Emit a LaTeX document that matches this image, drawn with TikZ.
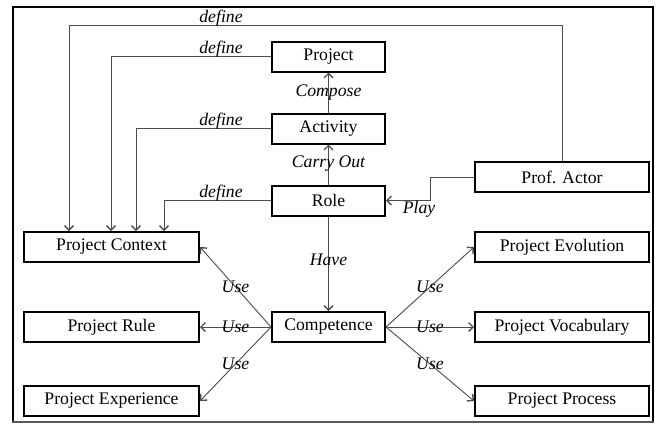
\documentclass[tikz,border=0pt]{standalone}
\usepackage{fontspec}
\setmainfont{Liberation Serif}
\usetikzlibrary{arrows.meta}

\tikzset{
  box/.style={draw=black, line width=2pt, minimum height=30pt, inner sep=0pt,
    font=\fontsize{17.7}{20}\selectfont},
  midbox/.style={box, minimum width=113pt},
  sidebox/.style={box, minimum width=175pt},
  conn/.style={draw=black!70, line width=0.9pt},
  arr/.style={conn, -{Straight Barb[length=4.5pt,width=9pt,line width=1.4pt]}},
  lbl/.style={font=\fontsize{17.7}{20}\selectfont\itshape, inner sep=0pt},
  frameline/.style={line width=2.2pt, draw=black}
}

\begin{document}
\begin{tikzpicture}[x=1pt,y=-1pt]
\useasboundingbox (0,0) rectangle (662,426);
\fill[white] (0,0) rectangle (662,426);

% outer frame
\draw[frameline] (13,422) -- (13,7) -- (653,7) -- (653,422);
\draw[draw=black!65, line width=1.5pt] (12,422) -- (654,422);

% central column
\node[midbox] (project) at (328.5,56.5) {Project};
\node[midbox] (activity) at (328.5,128.5) {Activity};
\node[midbox] (role) at (328.5,200.5) {Role};
\node[midbox] (comp) at (328.5,327) {Competence};

% left column
\node[sidebox] (ctx) at (111.5,247) {Project Context};
\node[sidebox] (rule) at (111.5,327) {Project Rule};
\node[sidebox] (exp) at (111.5,401) {Project Experience};

% right column
\node[sidebox, minimum width=174pt] (actor) at (562,177) {Prof. Actor};
\node[sidebox, minimum width=174pt] (evol) at (562,247) {Project Evolution};
\node[sidebox, minimum width=174pt] (vocab) at (562,327) {Project Vocabulary};
\node[sidebox, minimum width=174pt] (proc) at (562,401) {Project Process};

% bend points of the "define" routes and the "Play" route
\coordinate (topbend) at (69,25.5);
\coordinate (xproj) at (111,0);
\coordinate (xact) at (136,0);
\coordinate (xrole) at (164,0);
\coordinate (xplay) at (430,0);

% define connectors into Project Context
\draw[arr] (actor.north) |- (topbend) -- (topbend |- ctx.north);
\draw[arr] (project.west) -| (xproj |- ctx.north);
\draw[arr] (activity.west) -| (xact |- ctx.north);
\draw[arr] (role.west) -| (xrole |- ctx.north);
\node[lbl] (d1) at (221,18) {define};
\node[lbl] (d2) at (221,49) {define};
\node[lbl] (d3) at (221,121) {define};
\node[lbl] (d4) at (221,193) {define};

% vertical chain
\draw[arr] (activity.north) -- (project.south);
\draw[arr] (role.north) -- (activity.south);
\draw[arr] (role.south) -- (comp.north);
\node[lbl] (l1) at (328.5,93) {Compose};
\node[lbl] (l2) at (328.5,164) {Carry Out};
\node[lbl] (l3) at (328.5,260) {Have};

% Play
\draw[arr] (actor.west) -| (xplay |- role.east) -- (role.east);
\node[lbl] (l4) at (419,209) {Play};

% Use connectors
\draw[arr] (comp.west) -- (ctx.east) node[lbl, midway] {Use};
\draw[arr] (comp.west) -- (rule.east) node[lbl, midway] {Use};
\draw[arr] (comp.west) -- (exp.east) node[lbl, midway] {Use};
\draw[arr] (comp.east) -- (evol.west) node[lbl, midway] {Use};
\draw[arr] (comp.east) -- (vocab.west) node[lbl, midway] {Use};
\draw[arr] (comp.east) -- (proc.west) node[lbl, midway] {Use};
\end{tikzpicture}
\end{document}
